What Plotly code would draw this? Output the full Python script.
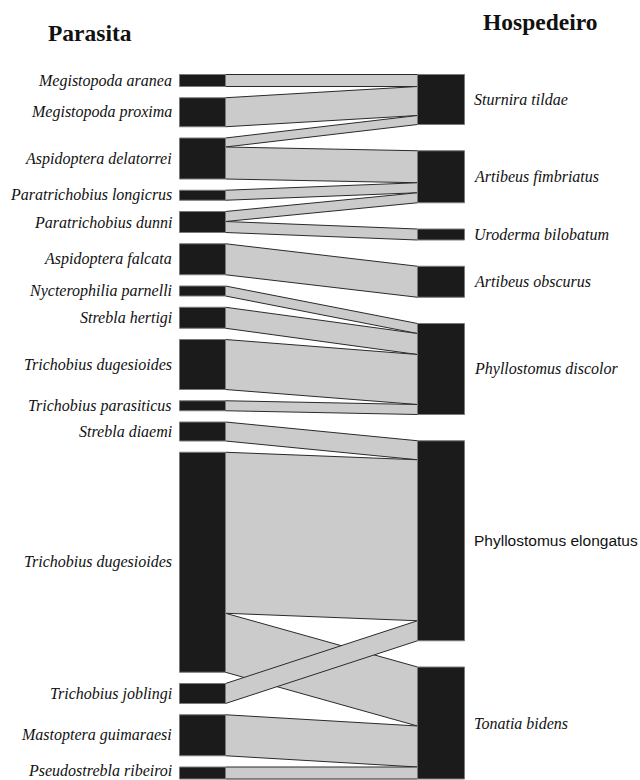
import plotly.graph_objects as go

# ---------------- data ----------------
parasites = [
    "Megistopoda aranea", "Megistopoda proxima", "Aspidoptera delatorrei",
    "Paratrichobius longicrus", "Paratrichobius dunni", "Aspidoptera falcata",
    "Nycterophilia parnelli", "Strebla hertigi", "Trichobius dugesioides",
    "Trichobius parasiticus", "Strebla diaemi", "Trichobius dugesioides ",
    "Trichobius joblingi", "Mastoptera guimaraesi", "Pseudostrebla ribeiroi",
]
hosts = [
    "Sturnira tildae", "Artibeus fimbriatus", "Uroderma bilobatum",
    "Artibeus obscurus", "Phyllostomus discolor", "Phyllostomus elongatus",
    "Tonatia bidens",
]
link_parasite = [
    "Megistopoda aranea", "Megistopoda proxima", "Aspidoptera delatorrei",
    "Aspidoptera delatorrei", "Paratrichobius longicrus", "Paratrichobius dunni",
    "Paratrichobius dunni", "Aspidoptera falcata", "Nycterophilia parnelli",
    "Strebla hertigi", "Trichobius dugesioides", "Trichobius parasiticus",
    "Strebla diaemi", "Trichobius dugesioides ", "Trichobius dugesioides ",
    "Trichobius joblingi", "Mastoptera guimaraesi", "Pseudostrebla ribeiroi",
]
link_host = [
    "Sturnira tildae", "Sturnira tildae", "Sturnira tildae",
    "Artibeus fimbriatus", "Artibeus fimbriatus", "Artibeus fimbriatus",
    "Uroderma bilobatum", "Artibeus obscurus", "Phyllostomus discolor",
    "Phyllostomus discolor", "Phyllostomus discolor", "Phyllostomus discolor",
    "Phyllostomus elongatus", "Phyllostomus elongatus", "Tonatia bidens",
    "Phyllostomus elongatus", "Tonatia bidens", "Tonatia bidens",
]
link_weight = [12, 29, 9, 32, 10, 10, 11, 31, 10, 21, 50, 10, 19, 161, 59, 20, 41, 12]

# ---------------- layout geometry ----------------
W, H = 640, 780
TOP, BOTTOM = 74.5, 779.0
LX0, LX1 = 179.5, 225.5   # parasite bars
RX0, RX1 = 417.5, 464.5   # host bars

def totals(names, keys):
    return [sum(w for k, w in zip(keys, link_weight) if k == n) for n in names]

ptot = totals(parasites, link_parasite)
htot = totals(hosts, link_host)

def positions(tot):
    span = BOTTOM - TOP
    s = sum(tot)
    gap = (span - s) / (len(tot) - 1)
    pos, y = [], TOP
    for t in tot:
        pos.append((y, y + t))
        y += t + gap
    return pos

ppos = positions(ptot)
hpos = positions(htot)

fig = go.Figure()

idx = list(range(len(link_weight)))
p_cursor = {p: ppos[i][0] for i, p in enumerate(parasites)}
h_cursor = {h: hpos[i][0] for i, h in enumerate(hosts)}
left_seg, right_seg = {}, {}
for i in sorted(idx, key=lambda i: (parasites.index(link_parasite[i]), hosts.index(link_host[i]))):
    p = link_parasite[i]
    left_seg[i] = (p_cursor[p], p_cursor[p] + link_weight[i])
    p_cursor[p] += link_weight[i]
for i in sorted(idx, key=lambda i: (hosts.index(link_host[i]), parasites.index(link_parasite[i]))):
    h = link_host[i]
    right_seg[i] = (h_cursor[h], h_cursor[h] + link_weight[i])
    h_cursor[h] += link_weight[i]

for i in idx:
    a0, a1 = left_seg[i]
    b0, b1 = right_seg[i]
    fig.add_trace(go.Scatter(
        x=[LX1, RX0, RX0, LX1, LX1], y=[a0, b0, b1, a1, a0],
        mode="lines", fill="toself", fillcolor="#cbcbcb",
        line=dict(color="#2a2a2a", width=1), hoverinfo="skip", showlegend=False))

def add_bar(x0, x1, y0, y1):
    fig.add_trace(go.Scatter(
        x=[x0, x1, x1, x0, x0], y=[y0, y0, y1, y1, y0],
        mode="lines", fill="toself", fillcolor="#1b1b1b",
        line=dict(color="#7a7a7a", width=1), hoverinfo="skip", showlegend=False))

for (y0, y1) in ppos:
    add_bar(LX0, LX1, y0, y1)
for (y0, y1) in hpos:
    add_bar(RX0, RX1, y0, y1)

def label_y(y0, y1):
    # keep the text fully inside the canvas
    return min((y0 + y1) / 2, H - 10)

serif_it = dict(family="Liberation Serif, Times New Roman, serif", size=16,
                color="#111111", style="italic")
for name, (y0, y1) in zip(parasites, ppos):
    fig.add_annotation(x=LX0 - 6, y=label_y(y0, y1), text=name.strip(), showarrow=False,
                       xanchor="right", yanchor="middle", font=serif_it)
for name, (y0, y1) in zip(hosts, hpos):
    if name == "Phyllostomus elongatus":
        f = dict(family="Liberation Sans, Arial, sans-serif", size=15.5, color="#111111")
    else:
        f = serif_it
    fig.add_annotation(x=RX1 + 7, y=label_y(y0, y1), text=name, showarrow=False,
                       xanchor="left", yanchor="middle", font=f)

title_font = dict(family="Liberation Serif, Times New Roman, serif", size=23.5,
                  color="#111111", weight="bold")
fig.add_annotation(x=90, y=33, text="Parasita", showarrow=False,
                   xanchor="center", yanchor="middle", font=title_font)
fig.add_annotation(x=540, y=22, text="Hospedeiro", showarrow=False,
                   xanchor="center", yanchor="middle", font=title_font)

fig.update_layout(
    width=W, height=H, margin=dict(l=0, r=0, t=0, b=0),
    paper_bgcolor="white", plot_bgcolor="white",
    xaxis=dict(range=[0, W], visible=False, fixedrange=True),
    yaxis=dict(range=[H, 0], visible=False, fixedrange=True),
    hovermode=False,
)
fig.write_html(
    "out.html",
    config={"displayModeBar": False, "staticPlot": True},
    post_script="document.body.style.margin='0px';document.body.style.overflow='hidden';",
)
